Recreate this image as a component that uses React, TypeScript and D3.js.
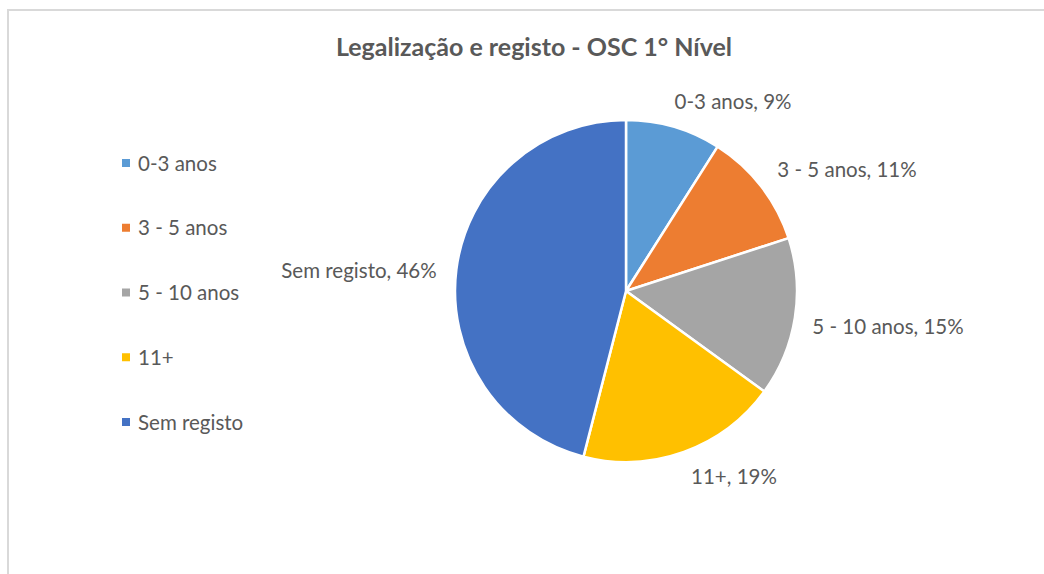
import { useRef, useEffect } from 'react'
import * as d3 from 'd3'

// chart data
const categories = ['0-3 anos', '3 - 5 anos', '5 - 10 anos', '11+', 'Sem registo']
const values = [9, 11, 15, 19, 46]
const colors = ['#5b9bd5', '#ed7d31', '#a5a5a5', '#ffc000', '#4472c4']
const title = 'Legalização e registo - OSC 1° Nível'

// label positions (center x, baseline y)
const labelPos: [number, number][] = [
  [733, 109],
  [847, 177],
  [888, 334],
  [734, 484],
  [359, 278],
]

function App() {
  const svgRef = useRef<SVGSVGElement>(null)

  useEffect(() => {
    const w = 1044
    const h = 574
    const svg = d3.select(svgRef.current)
      .attr('width', w)
      .attr('height', h)
    svg.selectAll('*').remove()

    const font = 'Lato, "Open Sans", sans-serif'
    const textColor = '#595959'

    // chart frame
    svg.append('rect')
      .attr('x', 8).attr('y', 10)
      .attr('width', w).attr('height', h)
      .attr('fill', 'white')
      .attr('stroke', '#d9d9d9')
      .attr('stroke-width', 2)

    svg.append('text')
      .attr('x', 534).attr('y', 56)
      .attr('text-anchor', 'middle')
      .attr('font-family', font)
      .attr('font-weight', 'bold')
      .attr('font-size', 25)
      .attr('fill', textColor)
      .text(title)

    // pie
    const cx = 626, cy = 291, r = 171
    const pie = d3.pie<number>().sort(null).value(d => d)
    const arc = d3.arc<d3.PieArcDatum<number>>().innerRadius(0).outerRadius(r)
    const arcs = pie(values)
    const g = svg.append('g').attr('transform', `translate(${cx},${cy})`)
    g.selectAll('path')
      .data(arcs)
      .join('path')
      .attr('d', arc)
      .attr('fill', (d, i) => colors[i])
      .attr('stroke', 'white')
      .attr('stroke-width', 2.5)
      .attr('stroke-linejoin', 'round')

    const total = d3.sum(values)
    svg.selectAll('.lbl')
      .data(arcs)
      .join('text')
      .attr('class', 'lbl')
      .attr('x', (d, i) => labelPos[i][0])
      .attr('y', (d, i) => labelPos[i][1])
      .attr('text-anchor', 'middle')
      .attr('font-family', font)
      .attr('font-size', 20.5)
      .attr('fill', textColor)
      .text((d, i) => `${categories[i]}, ${d3.format('.0%')(d.value / total)}`)

    // legend
    const legendY = d3.scalePoint<string>()
      .domain(categories)
      .range([163, 422])
    const lg = svg.append('g')
    lg.selectAll('rect')
      .data(categories)
      .join('rect')
      .attr('x', 122)
      .attr('y', d => legendY(d)! - 4)
      .attr('width', 8).attr('height', 8)
      .attr('fill', (d, i) => colors[i])
    lg.selectAll('text')
      .data(categories)
      .join('text')
      .attr('x', 138)
      .attr('y', d => legendY(d)! + 7.5)
      .attr('font-family', font)
      .attr('font-size', 20.5)
      .attr('fill', textColor)
      .text(d => d)
  }, [])

  return (
    <svg ref={svgRef} style={{ position: 'absolute', left: 0, top: 0 }}></svg>
  )
}

export default App
